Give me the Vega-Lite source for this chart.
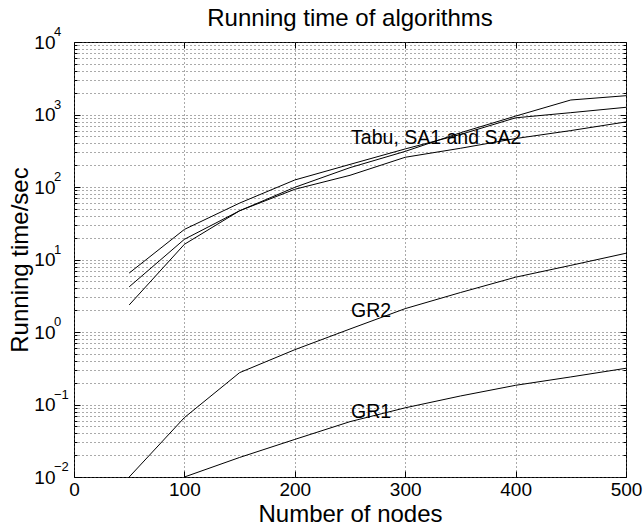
{
  "$schema": "https://vega.github.io/schema/vega-lite/v6.json",
  "width": 552,
  "height": 435,
  "autosize": {"type": "none"},
  "padding": {"left": 74, "top": 42, "right": 18, "bottom": 48},
  "background": "white",
  "config": {
    "view": {"stroke": "black", "strokeWidth": 1},
    "font": "Liberation Sans",
    "axis": {"domainColor": "black", "tickColor": "black", "labelColor": "black", "titleColor": "black", "labelFont": "Liberation Sans", "titleFont": "Liberation Sans"}
  },
  "title": {"text": "Running time of algorithms", "fontSize": 24, "font": "Liberation Sans", "fontWeight": "normal", "color": "black", "offset": -5},
  "datasets": {
    "lines": [
      {"series": "A", "n": 50, "t": 6.5}, {"series": "A", "n": 100, "t": 26}, {"series": "A", "n": 150, "t": 60}, {"series": "A", "n": 200, "t": 125}, {"series": "A", "n": 250, "t": 205}, {"series": "A", "n": 300, "t": 335}, {"series": "A", "n": 350, "t": 530}, {"series": "A", "n": 400, "t": 900}, {"series": "A", "n": 450, "t": 1060}, {"series": "A", "n": 500, "t": 1257},
      {"series": "B", "n": 50, "t": 4.2}, {"series": "B", "n": 100, "t": 19}, {"series": "B", "n": 150, "t": 47}, {"series": "B", "n": 200, "t": 99}, {"series": "B", "n": 250, "t": 185}, {"series": "B", "n": 300, "t": 310}, {"series": "B", "n": 350, "t": 560}, {"series": "B", "n": 400, "t": 950}, {"series": "B", "n": 450, "t": 1585}, {"series": "B", "n": 500, "t": 1817},
      {"series": "C", "n": 50, "t": 2.36}, {"series": "C", "n": 100, "t": 16.2}, {"series": "C", "n": 150, "t": 47}, {"series": "C", "n": 200, "t": 93}, {"series": "C", "n": 250, "t": 145}, {"series": "C", "n": 300, "t": 257}, {"series": "C", "n": 350, "t": 342}, {"series": "C", "n": 400, "t": 466}, {"series": "C", "n": 450, "t": 600}, {"series": "C", "n": 500, "t": 790},
      {"series": "GR2", "n": 50, "t": 0.01}, {"series": "GR2", "n": 100, "t": 0.066}, {"series": "GR2", "n": 150, "t": 0.275}, {"series": "GR2", "n": 200, "t": 0.57}, {"series": "GR2", "n": 250, "t": 1.1}, {"series": "GR2", "n": 300, "t": 2.1}, {"series": "GR2", "n": 350, "t": 3.5}, {"series": "GR2", "n": 400, "t": 5.7}, {"series": "GR2", "n": 450, "t": 8.3}, {"series": "GR2", "n": 500, "t": 12.2},
      {"series": "GR1", "n": 100, "t": 0.01}, {"series": "GR1", "n": 150, "t": 0.0186}, {"series": "GR1", "n": 200, "t": 0.033}, {"series": "GR1", "n": 250, "t": 0.058}, {"series": "GR1", "n": 300, "t": 0.09}, {"series": "GR1", "n": 350, "t": 0.131}, {"series": "GR1", "n": 400, "t": 0.184}, {"series": "GR1", "n": 450, "t": 0.24}, {"series": "GR1", "n": 500, "t": 0.316}
    ],
    "labels": [
      {"label": "Tabu, SA1 and SA2", "n": 251, "t": 474},
      {"label": "GR2", "n": 251, "t": 1.95},
      {"label": "GR1", "n": 251, "t": 0.079}
    ],
    "exponents": [
      {"t": 0.01, "e": "−2"}, {"t": 0.1, "e": "−1"}, {"t": 1, "e": "0"}, {"t": 10, "e": "1"}, {"t": 100, "e": "2"}, {"t": 1000, "e": "3"}, {"t": 10000, "e": "4"}
    ]
  },
  "layer": [
    {
      "data": {"name": "lines"},
      "mark": {"type": "line", "color": "black", "strokeWidth": 1, "clip": true},
      "encoding": {
        "x": {"field": "n", "type": "quantitative", "scale": {"domain": [0, 500], "nice": false, "zero": false},
          "axis": {"orient": "bottom", "values": [0, 100, 200, 300, 400, 500], "title": "Number of nodes", "titleFontSize": 24, "titleFontWeight": "normal", "titlePadding": 3, "labelFontSize": 19, "labelPadding": 9, "tickSize": -6, "grid": true, "gridDash": [1, 3], "gridColor": "#555", "gridOpacity": 1, "labelFlush": false, "domain": false}},
        "y": {"field": "t", "type": "quantitative", "scale": {"type": "log", "domain": [0.01, 10000], "nice": false},
          "axis": {"orient": "left", "title": "Running time/sec", "titleFontSize": 24, "titleFontWeight": "normal", "titlePadding": 1, "labelFontSize": 19, "labelPadding": 25, "grid": true, "gridDash": [1, 3], "gridColor": "#555", "gridOpacity": 1, "domain": false, "labelFlush": false, "labelOverlap": false,
            "tickSize": {"condition": {"test": "datum.value==0.01||datum.value==0.1||datum.value==1||datum.value==10||datum.value==100||datum.value==1000||datum.value==10000", "value": -6}, "value": -3},
            "values": [0.01, 0.02, 0.03, 0.04, 0.05, 0.06, 0.07, 0.08, 0.09, 0.1, 0.2, 0.3, 0.4, 0.5, 0.6, 0.7, 0.8, 0.9, 1, 2, 3, 4, 5, 6, 7, 8, 9, 10, 20, 30, 40, 50, 60, 70, 80, 90, 100, 200, 300, 400, 500, 600, 700, 800, 900, 1000, 2000, 3000, 4000, 5000, 6000, 7000, 8000, 9000, 10000],
            "labelExpr": "datum.value==0.01||datum.value==0.1||datum.value==1||datum.value==10||datum.value==100||datum.value==1000||datum.value==10000?'10':''"}},
        "detail": {"field": "series", "type": "nominal"}
      }
    },
    {
      "data": {"name": "labels"},
      "mark": {"type": "text", "align": "left", "baseline": "middle", "fontSize": 19.5, "font": "Liberation Sans", "color": "black"},
      "encoding": {
        "x": {"field": "n", "type": "quantitative", "scale": {"domain": [0, 500], "nice": false, "zero": false},
          "axis": {"orient": "top", "values": [0, 100, 200, 300, 400, 500], "title": null, "labels": false, "tickSize": -6, "grid": false, "domain": false}},
        "y": {"field": "t", "type": "quantitative", "scale": {"type": "log", "domain": [0.01, 10000], "nice": false},
          "axis": {"orient": "right", "title": null, "labels": false, "grid": false, "domain": false,
            "tickSize": {"condition": {"test": "datum.value==0.01||datum.value==0.1||datum.value==1||datum.value==10||datum.value==100||datum.value==1000||datum.value==10000", "value": -6}, "value": -3},
            "values": [0.01, 0.02, 0.03, 0.04, 0.05, 0.06, 0.07, 0.08, 0.09, 0.1, 0.2, 0.3, 0.4, 0.5, 0.6, 0.7, 0.8, 0.9, 1, 2, 3, 4, 5, 6, 7, 8, 9, 10, 20, 30, 40, 50, 60, 70, 80, 90, 100, 200, 300, 400, 500, 600, 700, 800, 900, 1000, 2000, 3000, 4000, 5000, 6000, 7000, 8000, 9000, 10000]}},
        "text": {"field": "label", "type": "nominal"}
      }
    },
    {
      "data": {"name": "exponents"},
      "mark": {"type": "text", "align": "left", "baseline": "middle", "fontSize": 13, "font": "Liberation Sans", "color": "black", "dx": -20, "dy": -10, "clip": false},
      "encoding": {
        "x": {"datum": 0, "type": "quantitative", "axis": null},
        "y": {"field": "t", "type": "quantitative", "axis": null},
        "text": {"field": "e", "type": "nominal"}
      }
    }
  ],
  "resolve": {"axis": {"x": "independent", "y": "independent"}}
}
